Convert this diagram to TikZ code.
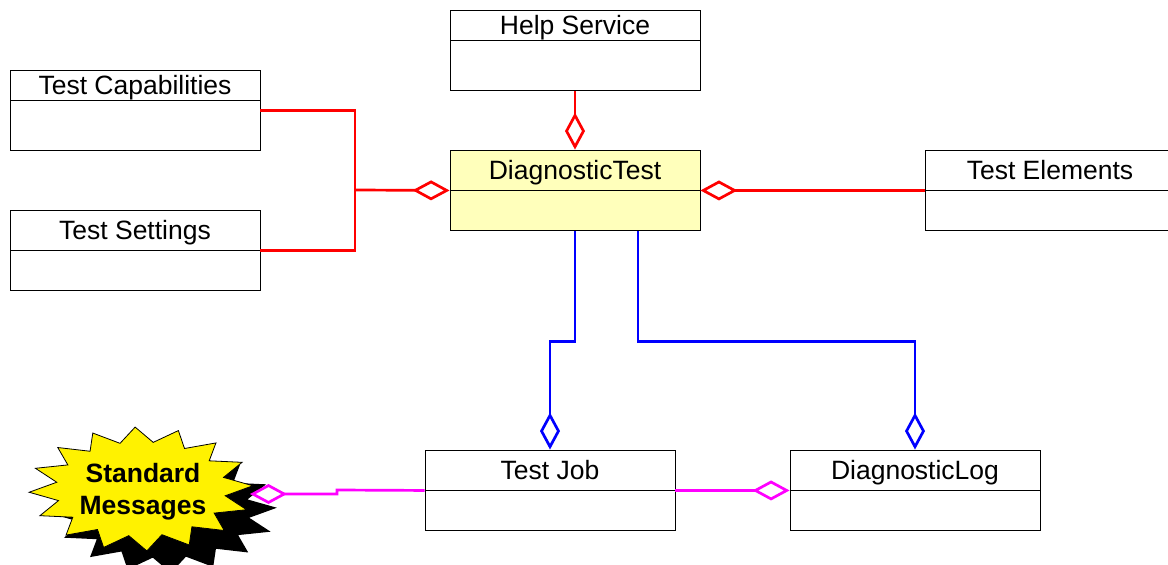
\documentclass[tikz,border=0pt]{standalone}
\usepackage{fontspec}
\setmainfont{Liberation Sans}
\usetikzlibrary{arrows.meta,calc}
\definecolor{paleyellow}{RGB}{255,255,187}
\definecolor{mag}{RGB}{255,0,255}
\tikzset{
  hdr/.style={draw=black, line width=0.9pt, minimum width=250pt, inner sep=0pt, text height=19pt, text depth=0pt, font=\fontsize{26.5}{30}\selectfont},
  bodybox/.style={draw=black, line width=0.9pt, minimum width=250pt, minimum height=40pt, inner sep=0pt, anchor=north},
  conn/.style={line width=2.7pt, line join=miter},
  agg/.style={conn, -{Diamond[open, length=37pt, width=20pt]}},
}
\begin{document}
\begin{tikzpicture}[x=1pt, y=-1pt]
\useasboundingbox (0,0) rectangle (1168,565);
\clip (0,0) rectangle (1168,565);
\fill[white] (0,0) rectangle (1168,565);

% Help Service
\node[hdr, minimum height=30pt] (helpH) at (575,25) {Help Service};
\node[bodybox, minimum height=50pt] (helpB) at (helpH.south) {};
% Test Capabilities
\node[hdr, minimum height=30pt] (capH) at (135,85) {Test Capabilities};
\node[bodybox, minimum height=50pt] (capB) at (capH.south) {};
% Test Settings
\node[hdr, minimum height=40pt] (setH) at (135,230) {Test Settings};
\node[bodybox] (setB) at (setH.south) {};
% DiagnosticTest
\node[bodybox, fill=paleyellow, minimum height=80pt] (diagAll) at (575,150) {};
\node[hdr, minimum height=40pt] (diagH) at (575,170) {DiagnosticTest};
\node[bodybox] (diagB) at (diagH.south) {};
% Test Elements
\node[hdr, minimum height=40pt] (elemH) at (1050,170) {Test Elements};
\node[bodybox] (elemB) at (elemH.south) {};
% Test Job
\node[hdr, minimum height=40pt] (jobH) at (550,470) {Test Job};
\node[bodybox] (jobB) at (jobH.south) {};
% DiagnosticLog
\node[hdr, minimum height=40pt] (logH) at (915,470) {DiagnosticLog};
\node[bodybox] (logB) at (logH.south) {};

% Standard Messages starburst
\fill[black] plot[samples at={0,...,31}, variable=\k]
  ({165+112*(1-0.24*mod(\k,2))*cos(\k*11.25-3)}, {511+62*(1-0.24*mod(\k,2))*sin(\k*11.25-3)}) -- cycle;
\filldraw[fill=yellow, draw=black, line width=0.8pt] plot[samples at={0,...,31}, variable=\k]
  ({141+112*(1-0.24*mod(\k,2))*cos(\k*11.25-3)}, {489+62*(1-0.24*mod(\k,2))*sin(\k*11.25-3)}) -- cycle;
\node[font=\bfseries\fontsize{26.5}{32}\selectfont, align=center] (std) at (143,492) {Standard\\Messages};
\coordinate (stdR) at (250,494);

% red connectors
\coordinate (jx) at (355,190);
\draw[conn, red] ([yshift=-10pt]capB.north east) -| (jx) |- (setH.south east);
\draw[agg, red] (jx) -- (diagH.south west);
\draw[agg, red] (helpB.south) -- (diagH.north);
\draw[agg, red] (elemH.south west) -- (diagH.south east);

% blue connectors
\draw[agg, blue] (diagB.south) -- ++(0,110) -| (jobH.north);
\draw[agg, blue] ([xshift=63pt]diagB.south) -- ++(0,110) -| (logH.north);

% magenta connectors
\draw[agg, mag] (jobH.south east) -- (logH.south west);
\coordinate (mstep) at (337,490);
\draw[agg, mag] (jobH.south west) -- (mstep) -- ++(0,4) -- (stdR);
\end{tikzpicture}
\end{document}
